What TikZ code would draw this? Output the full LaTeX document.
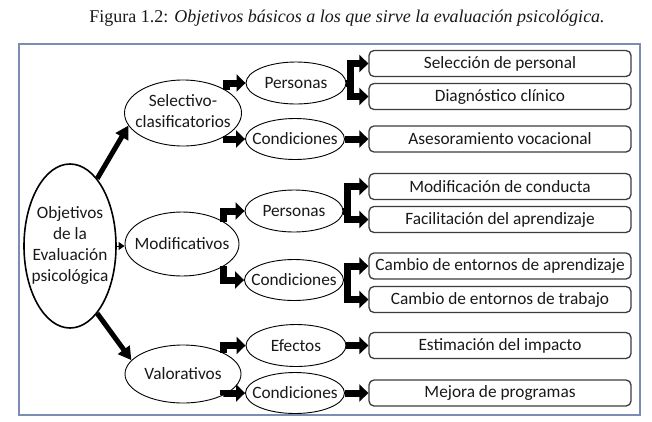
\documentclass[tikz,border=0pt]{standalone}
\usepackage{fontspec}
\setmainfont{Carlito}
\newfontfamily\titlefont{Liberation Serif}
\usetikzlibrary{arrows.meta,shapes.geometric}
\definecolor{framecol}{RGB}{125,140,178}
\definecolor{boxcol}{RGB}{60,60,60}
\definecolor{txt}{RGB}{25,25,25}
\begin{document}
\begin{tikzpicture}[x=1pt,y=-1pt,
  ell/.style={ellipse, draw=black, line width=0.9pt, inner sep=0pt, text=txt,
              font=\fontsize{17.3}{21}\selectfont},
  lvl/.style={ell, minimum width=99pt, minimum height=41pt},
  boxnode/.style={draw=boxcol, line width=1.3pt, rounded corners=5pt, minimum width=262pt,
              minimum height=26pt, inner sep=0pt, text=txt, font=\fontsize{17.3}{21}\selectfont},
  fat/.style={line width=7pt, line join=miter, -{Triangle[length=9pt,width=17pt]}},
  big/.style={line width=5pt, -{Triangle[length=13pt,width=14pt]}},
  small/.style={line width=1pt, -{Triangle[length=6pt,width=8pt]}}
]
\useasboundingbox (0,0) rectangle (652,421);
\fill[white] (0,0) rectangle (652,421);

% title
\node[text=txt, inner sep=0pt] (title) at (347,18)
  {\titlefont\fontsize{18}{22}\selectfont Figura 1.2: \itshape Objetivos básicos a los que sirve la evaluación psicológica.};

% frame
\draw[framecol, line width=2pt] (19,44) rectangle (640,415);

% main ellipse
\node[ell, line width=1.6pt, minimum width=92pt, minimum height=164pt] (obj) at (70,246)
  {\makebox[0pt]{\begin{tabular}{@{}c@{}}Objetivos\\de la\\Evaluación\\psicológica\end{tabular}}};

% first level
\node[ell, minimum width=117pt, minimum height=66pt] (sel) at (183,113)
  {\makebox[0pt]{\begin{tabular}{@{}c@{}}Selectivo-\\clasificatorios\end{tabular}}};
\node[ell, minimum width=114pt, minimum height=64pt] (mod) at (182,244)
  {\makebox[0pt]{Modificativos}};
\node[ell, minimum width=116pt, minimum height=58pt] (val) at (183,374)
  {\makebox[0pt]{Valorativos}};

% second level
\node[lvl, minimum width=100pt, minimum height=42pt] (p1) at (296,83) {\makebox[0pt]{Personas}};
\node[lvl] (c1) at (295,139) {\makebox[0pt]{Condiciones}};
\node[lvl, minimum width=98pt, minimum height=42pt] (p2) at (294,211) {\makebox[0pt]{Personas}};
\node[lvl] (c2) at (294,280) {\makebox[0pt]{Condiciones}};
\node[lvl, minimum width=100pt, minimum height=42pt] (ef) at (296,345.5) {\makebox[0pt]{Efectos}};
\node[lvl] (c3) at (295,393) {\makebox[0pt]{Condiciones}};

% boxes
\node[boxnode] (b1) at (500,63.5) {Selección de personal};
\node[boxnode] (b2) at (500,96.5) {Diagnóstico clínico};
\node[boxnode] (b3) at (500,139) {Asesoramiento vocacional};
\node[boxnode] (b4) at (500,186.5) {Modificación de conducta};
\node[boxnode] (b5) at (500,219.5) {Facilitación del aprendizaje};
\node[boxnode] (b6) at (500,266) {Cambio de entornos de aprendizaje};
\node[boxnode] (b7) at (500,299.5) {Cambio de entornos de trabajo};
\node[boxnode] (b8) at (500,345.5) {Estimación del impacto};
\node[boxnode] (b9) at (500,393) {Mejora de programas};

% main arrows
\draw[big] (obj.68) -- (sel.193);
\draw[big] (obj.-68) -- (val.165);
\draw[small] (obj.east) -- (obj.east -| mod.west);

% first to second level
\draw[fat] (sel.28) |- (p1.west);
\draw[fat] (sel.-28) |- (c1.west);
\draw[fat] (mod.28) |- (p2.west);
\draw[fat] (mod.-28) |- (c2.west);
\draw[fat] (val.28) |- (ef.west);
\draw[fat] (val.-28) |- (c3.west);

% second level to boxes
\draw[fat] (p1.east) -- ++(4,0) |- (b1.west);
\draw[fat] (p1.east) -- ++(4,0) |- (b2.west);
\draw[fat] (c1.east) -- (b3.west);
\draw[fat] (p2.east) -- ++(4,0) |- (b4.west);
\draw[fat] (p2.east) -- ++(4,0) |- (b5.west);
\draw[fat] (c2.east) -- ++(4,0) |- (b6.west);
\draw[fat] (c2.east) -- ++(4,0) |- (b7.west);
\draw[fat] (ef.east) -- (b8.west);
\draw[fat] (c3.east) -- (b9.west);
\end{tikzpicture}
\end{document}
